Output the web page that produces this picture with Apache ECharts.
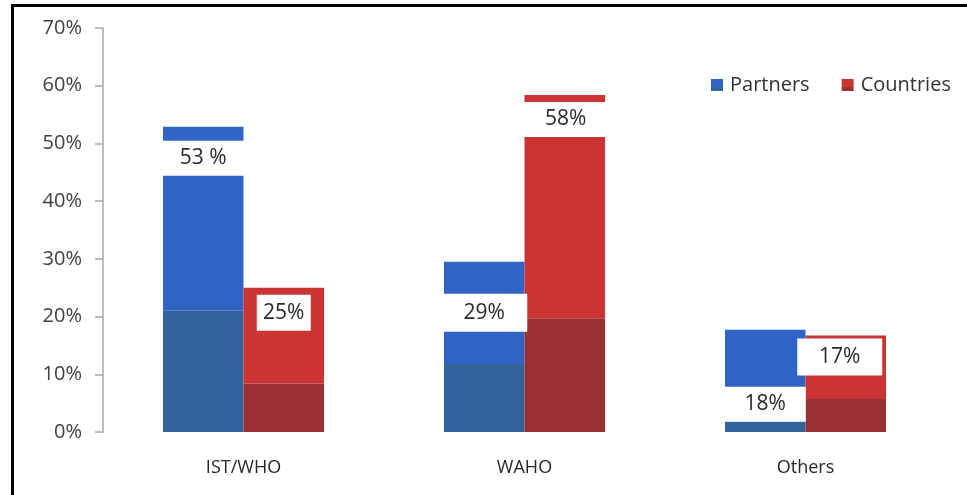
<!DOCTYPE html>
<html>
<head>
<meta charset="utf-8">
<script src="https://cdn.jsdelivr.net/npm/echarts@6/dist/echarts.min.js"></script>
<style>
html,body{margin:0;padding:0;background:#fff;}
#chart{width:967px;height:495px;}
</style>
</head>
<body>
<div id="chart"></div>
<script>
// ---- data ----
var categories = ['IST/WHO', 'WAHO', 'Others'];
var partnersTotal = [52.9, 29.5, 17.7];
var partnersShade = [21.0, 11.8, 1.8];
var countriesTotal = [25.0, 58.4, 16.7];
var countriesShade = [8.4, 19.7, 5.7];
var partnersLabels = ['53 %', '29%', '18%'];
var countriesLabels = ['25%', '58%', '17%'];
var yTicks = [0, 10, 20, 30, 40, 50, 60, 70];

// ---- styles (label boxes) ----
var partnersLabelBox = [
  {w: 82, h: 35, dx: 0, dy: 14},
  {w: 86, h: 38, dx: 0, dy: 32},
  {w: 81, h: 35, dx: 0, dy: 57}
];
var countriesLabelBox = [
  {w: 54, h: 36, dx: 0, dy: 7},
  {w: 86, h: 35, dx: 1, dy: 7},
  {w: 85, h: 37, dx: -6, dy: 3}
];

var C = {
  blue: '#3063c6', blueDark: '#30649a',
  red: '#cc3333', redDark: '#993132'
};
var FONT = '"Open Sans", "Noto Sans", sans-serif';

function topItems(total, shade, labels, boxes) {
  return total.map(function (t, i) {
    var b = boxes[i];
    return {
      value: +(t - shade[i]).toFixed(2),
      label: {
        show: true,
        position: 'insideTop',
        distance: 0,
        offset: [b.dx, b.dy],
        formatter: labels[i],
        width: b.w,
        height: b.h,
        lineHeight: b.h,
        align: 'center',
        verticalAlign: 'top',
        backgroundColor: '#ffffff',
        color: '#2a2a2a',
        fontSize: 21,
        fontFamily: FONT
      }
    };
  });
}

var chart = echarts.init(document.getElementById('chart'), null, {renderer: 'canvas'});
var barW = 80.5;
chart.setOption({
  animation: false,
  backgroundColor: '#ffffff',
  grid: {left: 103, right: 21, top: 28, bottom: 63, containLabel: false},
  legend: {
    left: 706, top: 70,
    itemWidth: 12, itemHeight: 12, itemGap: 32,
    icon: 'rect',
    textStyle: {fontSize: 20, color: '#333333', fontFamily: FONT, padding: [0, 0, 0, 2]},
    data: [
      {name: 'Partners', itemStyle: {color: {type: 'linear', x: 0, y: 0, x2: 0, y2: 1, colorStops: [{offset: 0, color: C.blue}, {offset: 0.7, color: C.blue}, {offset: 0.7, color: C.blueDark}, {offset: 1, color: C.blueDark}]}}},
      {name: 'Countries', itemStyle: {color: {type: 'linear', x: 0, y: 0, x2: 0, y2: 1, colorStops: [{offset: 0, color: C.red}, {offset: 0.7, color: C.red}, {offset: 0.7, color: C.redDark}, {offset: 1, color: C.redDark}]}}}
    ]
  },
  xAxis: {
    type: 'category',
    data: categories,
    axisLine: {show: false},
    axisTick: {show: false},
    axisLabel: {fontSize: 18, color: '#262626', fontFamily: FONT, margin: 27}
  },
  yAxis: {
    type: 'value',
    min: yTicks[0], max: yTicks[yTicks.length - 1], interval: 10,
    axisLine: {show: true, lineStyle: {color: '#a6a6a6', width: 1.5}},
    axisTick: {show: true, length: 8, lineStyle: {color: '#a6a6a6', width: 1.5}},
    splitLine: {show: false},
    axisLabel: {formatter: '{value}%', fontSize: 20, color: '#404040', fontFamily: FONT, margin: 21}
  },
  graphic: [
    {type: 'rect', shape: {x: 11, y: 4, width: 3, height: 491}, style: {fill: '#000'}, z: 100},
    {type: 'rect', shape: {x: 11, y: 4, width: 956, height: 3}, style: {fill: '#000'}, z: 100}
  ],
  series: [
    {name: 'PartnersShade', type: 'bar', stack: 'p', barWidth: barW, barGap: '0%',
     itemStyle: {color: C.blueDark}, data: partnersShade},
    {name: 'Partners', type: 'bar', stack: 'p', barWidth: barW, barGap: '0%',
     itemStyle: {color: C.blue},
     data: topItems(partnersTotal, partnersShade, partnersLabels, partnersLabelBox)},
    {name: 'CountriesShade', type: 'bar', stack: 'c', barWidth: barW, barGap: '0%',
     itemStyle: {color: C.redDark}, data: countriesShade},
    {name: 'Countries', type: 'bar', stack: 'c', barWidth: barW, barGap: '0%',
     itemStyle: {color: C.red},
     data: topItems(countriesTotal, countriesShade, countriesLabels, countriesLabelBox)}
  ]
});
</script>
</body>
</html>
